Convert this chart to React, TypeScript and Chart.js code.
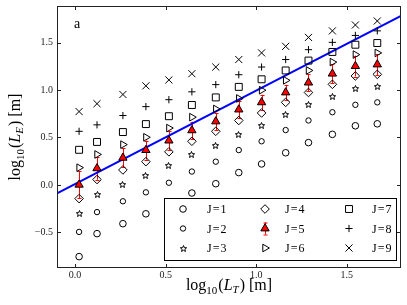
import React, { useEffect, useRef } from 'react';
import { Chart, registerables } from 'chart.js';
import { drawPoint } from 'chart.js/helpers';

Chart.register(...registerables);

// log10(L_T) of each column
const X_LOG_LT = [0.022, 0.121, 0.264, 0.391, 0.518, 0.645, 0.777, 0.904, 1.03, 1.163, 1.289, 1.421, 1.548, 1.669];

const J1 = [-0.755, -0.513, -0.408, -0.304, -0.2, -0.085, 0.013, 0.13, 0.221, 0.339, 0.446, 0.533, 0.623, 0.644];
const J2 = [-0.495, -0.286, -0.172, -0.078, 0.023, 0.141, 0.245, 0.367, 0.46, 0.578, 0.679, 0.766, 0.844, 0.87];
const J3 = [-0.297, -0.102, 0.002, 0.099, 0.2, 0.321, 0.419, 0.536, 0.627, 0.742, 0.846, 0.929, 1.019, 1.033];
const J4 = [-0.144, 0.057, 0.158, 0.245, 0.349, 0.46, 0.565, 0.679, 0.758, 0.87, 0.974, 1.06, 1.148, 1.165];
const J5 = [0.002, 0.175, 0.286, 0.367, 0.467, 0.575, 0.669, 0.794, 0.87, 0.974, 1.078, 1.172, 1.252, 1.269];
const J5_ERR = [0.14, 0.12, 0.1, 0.1, 0.1, 0.09, 0.09, 0.09, 0.08, 0.08, 0.09, 0.1, 0.11, 0.11];
const J6 = [0.182, 0.321, 0.425, 0.502, 0.599, 0.714, 0.8, 0.911, 0.998, 1.102, 1.206, 1.294, 1.373, 1.391];
const J7 = [0.37, 0.453, 0.557, 0.641, 0.724, 0.842, 0.922, 1.033, 1.113, 1.206, 1.31, 1.401, 1.477, 1.495];
const J8 = [0.565, 0.633, 0.731, 0.825, 0.898, 0.981, 1.057, 1.161, 1.242, 1.321, 1.425, 1.502, 1.575, 1.623];
const J9 = [0.773, 0.856, 0.953, 1.044, 1.106, 1.172, 1.242, 1.321, 1.391, 1.46, 1.554, 1.623, 1.685, 1.727];

const FIT_X = [-0.1, 1.8];
const FIT_Y = [-0.09, 1.78];

const X_TICKS = [0.0, 0.5, 1.0, 1.5];
const Y_TICKS = [-0.5, 0.0, 0.5, 1.0, 1.5];
const LABELS = ['J=1', 'J=2', 'J=3', 'J=4', 'J=5', 'J=6', 'J=7', 'J=8', 'J=9'];

const SERIF = '"Liberation Serif", "Times New Roman", serif';

function makeStar(): HTMLCanvasElement {
  const c = document.createElement('canvas');
  c.width = 9;
  c.height = 9;
  const ctx = c.getContext('2d')!;
  ctx.translate(4.5, 4.8);
  ctx.beginPath();
  const R = 3.3;
  const r = 1.45;
  for (let i = 0; i < 10; i++) {
    const a = -Math.PI / 2 + (i * Math.PI) / 5;
    const rr = i % 2 === 0 ? R : r;
    const px = Math.cos(a) * rr;
    const py = Math.sin(a) * rr;
    if (i === 0) ctx.moveTo(px, py);
    else ctx.lineTo(px, py);
  }
  ctx.closePath();
  ctx.lineWidth = 1;
  ctx.lineJoin = 'miter';
  ctx.strokeStyle = '#000';
  ctx.stroke();
  return c;
}

type Part = { t: string; f: string; dy?: number; gap?: number };

function drawRich(ctx: CanvasRenderingContext2D, parts: Part[], cx: number, baseY: number) {
  let total = 0;
  const widths = parts.map((p) => {
    ctx.font = p.f;
    const w = ctx.measureText(p.t).width + (p.gap || 0);
    total += w;
    return w;
  });
  let x = cx - total / 2;
  ctx.textAlign = 'left';
  ctx.textBaseline = 'alphabetic';
  parts.forEach((p, i) => {
    ctx.font = p.f;
    ctx.fillText(p.t, x, baseY + (p.dy || 0));
    x += widths[i];
  });
}

export default function App() {
  const ref = useRef<HTMLCanvasElement>(null);

  useEffect(() => {
    document.body.style.margin = '0';
    const star = makeStar();
    const pts = (ys: number[]) => X_LOG_LT.map((x, i) => ({ x, y: ys[i] }));
    const none = 'rgba(0,0,0,0)';

    const markers: any[] = [
      { data: J1, pointStyle: 'circle', radius: 3.3, bg: none, rot: 0 },
      { data: J2, pointStyle: 'circle', radius: 2.7, bg: none, rot: 0 },
      { data: J3, pointStyle: star, radius: 4, bg: none, rot: 0 },
      { data: J4, pointStyle: 'rectRot', radius: 4.3, bg: none, rot: 0 },
      { data: J5, pointStyle: 'triangle', radius: 4.8, bg: '#ff0000', rot: 0 },
      { data: J6, pointStyle: 'triangle', radius: 4.4, bg: none, rot: 90 },
      { data: J7, pointStyle: 'rect', radius: 4.9, bg: none, rot: 0 },
      { data: J8, pointStyle: 'cross', radius: 3.6, bg: none, rot: 0 },
      { data: J9, pointStyle: 'crossRot', radius: 5, bg: none, rot: 0 },
    ];

    const datasets: any[] = markers.map((m, i) => ({
      label: LABELS[i],
      data: pts(m.data),
      pointStyle: m.pointStyle,
      pointRadius: m.radius,
      pointRotation: m.rot,
      pointBackgroundColor: m.bg,
      pointBorderColor: '#000',
      pointBorderWidth: 1,
      showLine: false,
    }));
    datasets.push({
      label: 'fit',
      data: FIT_X.map((x, i) => ({ x, y: FIT_Y[i] })),
      showLine: true,
      borderColor: '#0000ff',
      borderWidth: 2,
      pointRadius: 0,
      fill: false,
    });

    const J5_INDEX = 4;

    const errorBars = {
      id: 'errorBars',
      beforeDatasetsDraw(chart: any) {
        const ctx = chart.ctx;
        ctx.imageSmoothingEnabled = false;
        const xs = chart.scales.x;
        const ys = chart.scales.y;
        ctx.save();
        ctx.strokeStyle = '#ff0000';
        ctx.lineWidth = 1;
        J5.forEach((v, i) => {
          const px = Math.round(xs.getPixelForValue(X_LOG_LT[i])) + 0.5;
          const y1 = ys.getPixelForValue(v + J5_ERR[i]);
          const y2 = ys.getPixelForValue(v - J5_ERR[i]);
          ctx.beginPath();
          ctx.moveTo(px, y1);
          ctx.lineTo(px, y2);
          ctx.moveTo(px - 2, Math.round(y1) + 0.5);
          ctx.lineTo(px + 2, Math.round(y1) + 0.5);
          ctx.moveTo(px - 2, Math.round(y2) + 0.5);
          ctx.lineTo(px + 2, Math.round(y2) + 0.5);
          ctx.stroke();
        });
        ctx.restore();
      },
    };

    const decorations = {
      id: 'decorations',
      afterDraw(chart: any) {
        const ctx: CanvasRenderingContext2D = chart.ctx;
        const { left, right, top, bottom } = chart.chartArea;
        const xs = chart.scales.x;
        const ys = chart.scales.y;
        ctx.save();
        ctx.imageSmoothingEnabled = false;

        // legend
        const lx0 = 164.5, ly0 = 198.5, lx1 = 396.5, ly1 = 260.5;
        ctx.fillStyle = '#fff';
        ctx.fillRect(lx0, ly0, lx1 - lx0, ly1 - ly0);
        ctx.strokeStyle = '#000';
        ctx.lineWidth = 1;
        ctx.strokeRect(lx0, ly0, lx1 - lx0, ly1 - ly0);
        const colMarker = [183, 265, 349];
        const colText = [207, 285, 372];
        const rowY = [209, 228.5, 248];
        markers.forEach((m, i) => {
          const col = Math.floor(i / 3);
          const row = i % 3;
          const mx = colMarker[col];
          const my = rowY[row];
          if (i === J5_INDEX) {
            ctx.strokeStyle = '#ff0000';
            ctx.lineWidth = 1;
            ctx.beginPath();
            ctx.moveTo(mx + 0.5, my - 6);
            ctx.lineTo(mx + 0.5, my + 6);
            ctx.moveTo(mx - 1.5, my - 5.5);
            ctx.lineTo(mx + 2.5, my - 5.5);
            ctx.moveTo(mx - 1.5, my + 6.5);
            ctx.lineTo(mx + 2.5, my + 6.5);
            ctx.stroke();
          }
          ctx.fillStyle = m.bg;
          ctx.strokeStyle = '#000';
          ctx.lineWidth = 1;
          drawPoint(ctx, { pointStyle: m.pointStyle, radius: m.radius, borderWidth: 1, rotation: m.rot } as any, mx, my);
          // label
          ctx.fillStyle = '#000';
          ctx.font = `12px ${SERIF}`;
          ctx.textBaseline = 'alphabetic';
          ctx.textAlign = 'left';
          const label = LABELS[i];
          const eq = label.indexOf('=');
          const a = label.slice(0, eq);
          const b = label.slice(eq + 1);
          let tx = colText[col];
          ctx.fillText(a, tx, my + 4);
          tx += ctx.measureText(a).width + 1;
          ctx.fillText('=', tx, my + 4);
          tx += ctx.measureText('=').width + 1;
          ctx.fillText(b, tx, my + 4);
        });

        // frame
        ctx.strokeStyle = '#222';
        ctx.lineWidth = 1;
        ctx.strokeRect(left + 0.5, top + 0.5, right - left - 1, bottom - top - 1);

        // inward ticks
        ctx.beginPath();
        X_TICKS.forEach((v) => {
          const px = Math.round(xs.getPixelForValue(v)) + 0.5;
          ctx.moveTo(px, bottom);
          ctx.lineTo(px, bottom - 4);
          ctx.moveTo(px, top);
          ctx.lineTo(px, top + 4);
        });
        Y_TICKS.forEach((v) => {
          const py = Math.round(ys.getPixelForValue(v)) + 0.5;
          ctx.moveTo(left, py);
          ctx.lineTo(left + 4, py);
          ctx.moveTo(right, py);
          ctx.lineTo(right - 4, py);
        });
        ctx.stroke();

        // tick labels
        const fmt = (v: number) => (v < 0 ? '\u2212' : '') + Math.abs(v).toFixed(1);
        ctx.fillStyle = '#222';
        ctx.font = `10px ${SERIF}`;
        ctx.textAlign = 'center';
        ctx.textBaseline = 'top';
        X_TICKS.forEach((v) => {
          ctx.fillText(fmt(v), xs.getPixelForValue(v), bottom + 2);
        });
        ctx.textAlign = 'right';
        ctx.textBaseline = 'middle';
        Y_TICKS.forEach((v) => {
          ctx.fillText(fmt(v), left - 4, ys.getPixelForValue(v));
        });

        // panel letter
        ctx.fillStyle = '#000';
        ctx.font = `14px ${SERIF}`;
        ctx.textAlign = 'center';
        ctx.textBaseline = 'alphabetic';
        ctx.fillText('a', 77, 28);

        // axis titles
        const big = `16px ${SERIF}`;
        const small = `11px ${SERIF}`;
        const bigI = `italic 16px ${SERIF}`;
        const smallI = `italic 11px ${SERIF}`;
        const xParts: Part[] = [
          { t: 'log', f: big },
          { t: '10', f: small, dy: 4, gap: 1 },
          { t: '(', f: big },
          { t: 'L', f: bigI },
          { t: 'T', f: smallI, dy: 3, gap: 1 },
          { t: ')', f: big },
          { t: ' [m]', f: big },
        ];
        ctx.fillStyle = '#000';
        drawRich(ctx, xParts, (left + right) / 2, 290);
        const yParts: Part[] = [
          { t: 'log', f: big },
          { t: '10', f: small, dy: 4, gap: 1 },
          { t: '(', f: big },
          { t: 'L', f: bigI },
          { t: 'E', f: smallI, dy: 3, gap: 1 },
          { t: ')', f: big },
          { t: ' [m]', f: big },
        ];
        ctx.translate(15, (top + bottom) / 2);
        ctx.rotate(-Math.PI / 2);
        drawRich(ctx, yParts, 0, 5);
        ctx.restore();
      },
    };

    const chart = new Chart(ref.current!, {
      type: 'scatter',
      data: { datasets },
      options: {
        animation: false,
        responsive: false,
        devicePixelRatio: 1,
        layout: { padding: { top: 3, right: 5, left: 0, bottom: 0 } },
        plugins: { legend: { display: false }, tooltip: { enabled: false } },
        scales: {
          x: {
            type: 'linear',
            min: -0.1,
            max: 1.8,
            grid: { display: false },
            border: { display: false },
            ticks: { display: false },
            afterFit: (s: any) => {
              s.height = 37;
            },
          },
          y: {
            type: 'linear',
            min: -0.875,
            max: 1.885,
            grid: { display: false },
            border: { display: false },
            ticks: { display: false },
            afterFit: (s: any) => {
              s.width = 57;
            },
          },
        },
      },
      plugins: [errorBars, decorations],
    });
    return () => chart.destroy();
  }, []);

  return (
    <div style={{ width: 407, height: 305 }}>
      <canvas ref={ref} width={407} height={305} style={{ display: 'block' }} />
    </div>
  );
}
